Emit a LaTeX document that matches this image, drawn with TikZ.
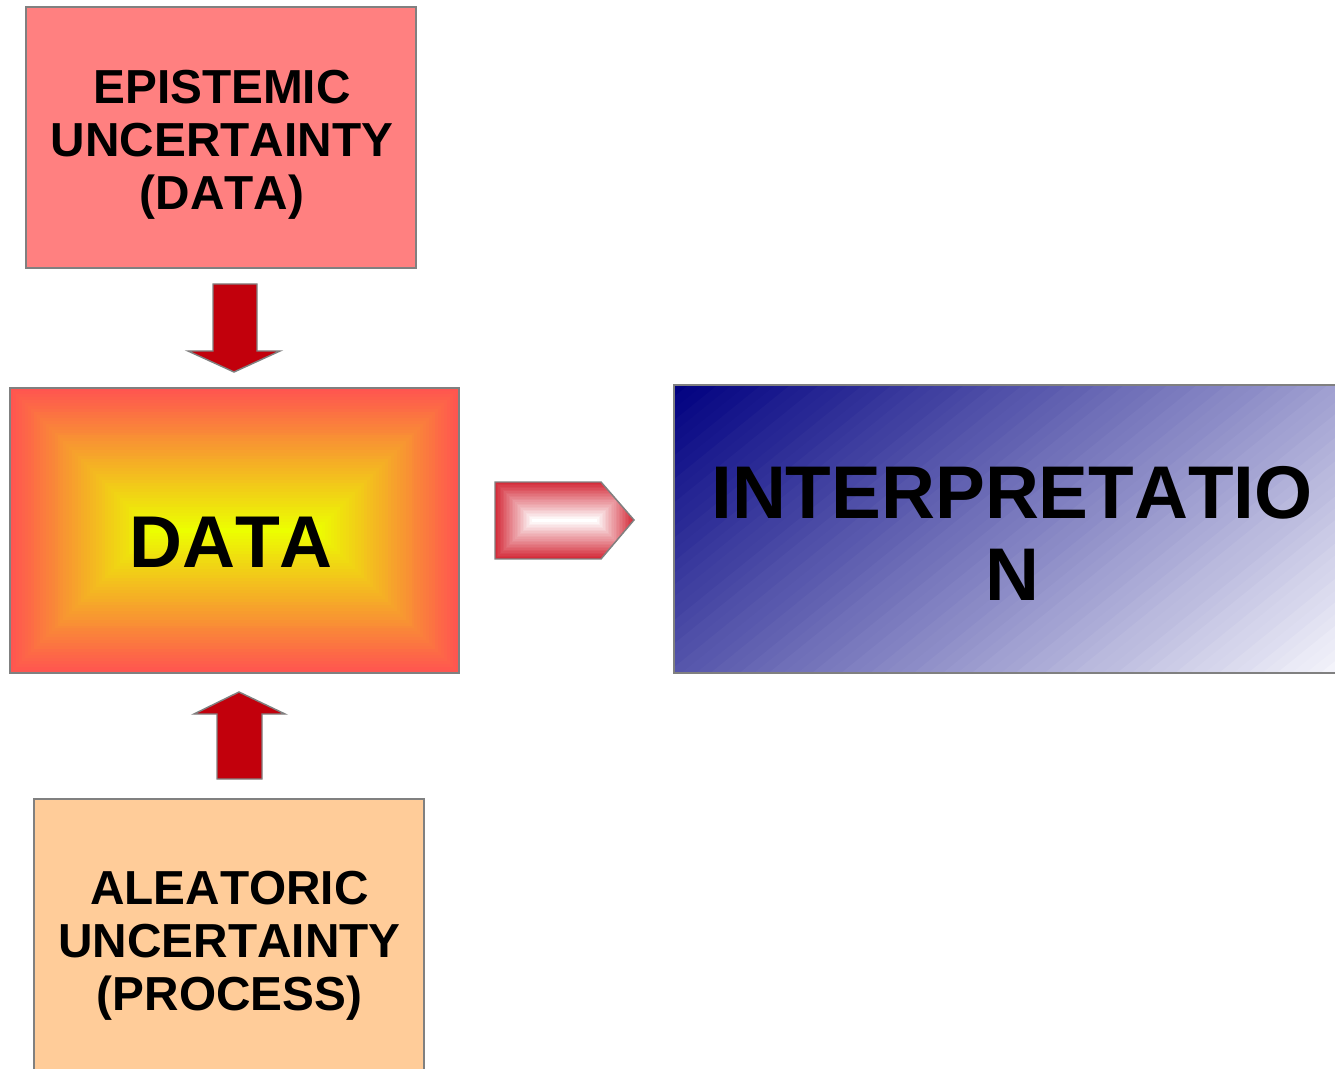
\documentclass[tikz,border=0pt]{standalone}
\usepackage{fontspec}
\setmainfont[Kerning=Off]{Liberation Sans}

\definecolor{epifill}{RGB}{255,128,128}
\definecolor{alefill}{RGB}{255,204,153}
\definecolor{edgegray}{RGB}{128,128,128}
\definecolor{arrowred}{RGB}{194,0,12}
\definecolor{dataout}{RGB}{255,85,80}
\definecolor{datain}{RGB}{236,255,0}
\definecolor{tagout}{RGB}{212,44,58}
\definecolor{navyA}{RGB}{0,0,128}
\definecolor{paleB}{RGB}{246,246,252}

\begin{document}
\begin{tikzpicture}[x=0.75pt,y=-0.75pt,
  box/.style={draw=edgegray, line width=1.1pt, inner sep=0pt, outer sep=0pt,
    anchor=north west},
  blockarrow/.style={fill=arrowred, draw=edgegray, line width=1.1pt, line join=miter},
  smalltext/.style={font=\bfseries\fontsize{35.8pt}{39.75pt}\selectfont,
    align=center, anchor=base, inner sep=0pt},
  bigtext/.style={font=\bfseries\fontsize{56pt}{61.5pt}\selectfont,
    align=center, anchor=base, inner sep=0pt}]

% page
\clip (0,0) rectangle (1335,1069);
\fill[white] (0,0) rectangle (1335,1069);

% epistemic box (text anchored on its last baseline)
\node[box, fill=epifill, minimum width={390*0.75pt}, minimum height={261*0.75pt}]
  (epi) at (26,7) {};
\node[smalltext] (epitext) at (222,210) {EPISTEMIC\\UNCERTAINTY\\(DATA)};

% aleatoric box (runs past the bottom edge)
\node[box, fill=alefill, minimum width={390*0.75pt}, minimum height={290*0.75pt}]
  (ale) at (34,799) {};
\node[smalltext] (aletext) at (229.5,1010) {ALEATORIC\\UNCERTAINTY\\(PROCESS)};

% data box: stepped rectangular gradient
\foreach \i in {0,...,47} {
  \pgfmathsetmacro\k{142.5*\i/48}
  \pgfmathtruncatemacro\p{100*\i/47}
  \fill[datain!\p!dataout] (10+\k,388+\k) rectangle (459-\k,673-\k);
}
\node[box, minimum width={449*0.75pt}, minimum height={285*0.75pt}]
  (data) at (10,388) {};
\node[bigtext, font=\bfseries\fontsize{55pt}{60pt}\selectfont] (datatext) at (231,567) {DATA};

% interpretation box: stepped diagonal gradient
\begin{scope}
  \clip (674,385) rectangle (1345,673);
  \foreach \i in {0,...,69} {
    \pgfmathsetmacro\ta{\i/70}
    \pgfmathsetmacro\tb{(\i+1.4)/70}
    \pgfmathtruncatemacro\p{100*(\i+0.5)/70}
    \fill[paleB!\p!navyA]
      (674+402.4*\ta-777, 385+497.3*\ta+629) --
      (674+402.4*\ta+777, 385+497.3*\ta-629) --
      (674+402.4*\tb+777, 385+497.3*\tb-629) --
      (674+402.4*\tb-777, 385+497.3*\tb+629) -- cycle;
  }
\end{scope}
\node[box, minimum width={671*0.75pt}, minimum height={288*0.75pt}]
  (interp) at (674,385) {};
\node[bigtext] (interptext) at (1012,600) {INTERPRETATIO\\N};

% down arrow into the data box
\draw[blockarrow] (213,284) -- (257,284) -- (257,351) -- (280,351) -- (234,372)
  -- (188,351) -- (213,351) -- cycle;

% up arrow into the data box
\draw[blockarrow] (239,692) -- (285,714) -- (262,714) -- (262,779) -- (217,779)
  -- (217,714) -- (194,714) -- cycle;

% tag arrow towards interpretation
\begin{scope}
  \clip (495,482) -- (601,482) -- (634,520) -- (601,559) -- (495,559) -- cycle;
  \foreach \i in {0,...,24} {
    \pgfmathsetmacro\k{38.5*\i/25}
    \pgfmathtruncatemacro\p{100*\i/24}
    \fill[white!\p!tagout] (495+\k,482+\k) rectangle (634-\k,559-\k);
  }
\end{scope}
\draw[draw=edgegray, line width=1.1pt, line join=miter]
  (495,482) -- (601,482) -- (634,520) -- (601,559) -- (495,559) -- cycle;
\end{tikzpicture}
\end{document}
